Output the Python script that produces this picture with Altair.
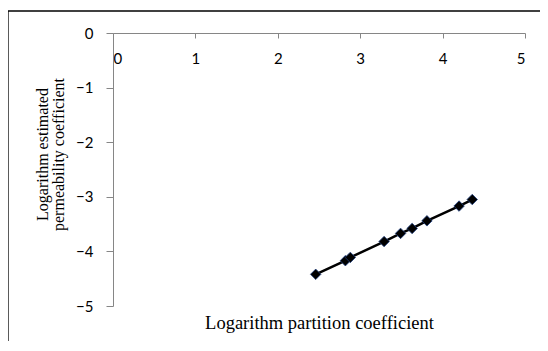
import altair as alt
import pandas as pd

# Data
log_partition = [2.46, 2.82, 2.88, 3.29, 3.49, 3.63, 3.81, 4.20, 4.36]
log_permeability = [-4.42, -4.17, -4.11, -3.82, -3.67, -3.58, -3.44, -3.17, -3.05]
x_ticks = [0, 1, 2, 3, 4, 5]
y_ticks = [0, -1, -2, -3, -4, -5]

df = pd.DataFrame({"x": log_partition, "y": log_permeability})

W, H = 412, 273

xscale = alt.Scale(domain=[0, 5], nice=False, zero=False)
yscale = alt.Scale(domain=[-5, 0], nice=False, zero=False)

x_enc = alt.X(
    "x:Q",
    scale=xscale,
    axis=alt.Axis(
        orient="bottom",
        offset=-H,
        values=x_ticks,
        format="d",
        grid=False,
        domainColor="#868686",
        tickColor="#868686",
        tickSize=5,
        labelPadding=13,
        labelFont="Lato",
        labelFontSize=15,
        labelColor="#000000",
        title="Logarithm partition coefficient",
        titleFont="Liberation Serif",
        titleFontSize=18.5,
        titleFontWeight="normal",
        titleColor="#000000",
        titleX=W / 2,
        titleY=295,
        titleBaseline="alphabetic",
    ),
)
y_enc = alt.Y(
    "y:Q",
    scale=yscale,
    axis=alt.Axis(
        values=y_ticks,
        format="d",
        grid=False,
        domainColor="#868686",
        tickColor="#868686",
        tickSize=7,
        labelPadding=13,
        labelFont="Lato",
        labelFontSize=15,
        labelColor="#000000",
        title=["Logarithm estimated", "permeability coefficient"],
        titleFont="Liberation Serif",
        titleFontSize=16,
        titleFontWeight="normal",
        titleColor="#000000",
        titleLineHeight=16,
        titleAngle=270,
        titleX=-66,
        titleY=121,
        titleBaseline="alphabetic",
    ),
)

line = alt.Chart(df).mark_line(color="#000000", strokeWidth=2.5).encode(x=x_enc, y=y_enc)
points = alt.Chart(df).mark_point(
    shape="diamond", filled=True, size=110, color="#000000", stroke="#1F3F7F",
    strokeWidth=0.8, opacity=1
).encode(x=alt.X("x:Q", scale=xscale), y=alt.Y("y:Q", scale=yscale))

frame_data = alt.Data(values=[{}])
frame_left = alt.Chart(frame_data).mark_rule(color="#000000", strokeWidth=1.3).encode(
    x=alt.value(-105), y=alt.value(-22), y2=alt.value(400)
)
frame_top = alt.Chart(frame_data).mark_rule(color="#000000", strokeWidth=1.3).encode(
    x=alt.value(-105), x2=alt.value(600), y=alt.value(-22)
)

chart = alt.layer(line, points, frame_left, frame_top).properties(
    width=W,
    height=H,
    autosize="none",
    padding={"left": 105, "top": 25, "right": 15, "bottom": 35},
    background="#ffffff",
).configure_view(stroke=None)

chart.save("out.html", embed_options={"renderer": "svg", "actions": False})
